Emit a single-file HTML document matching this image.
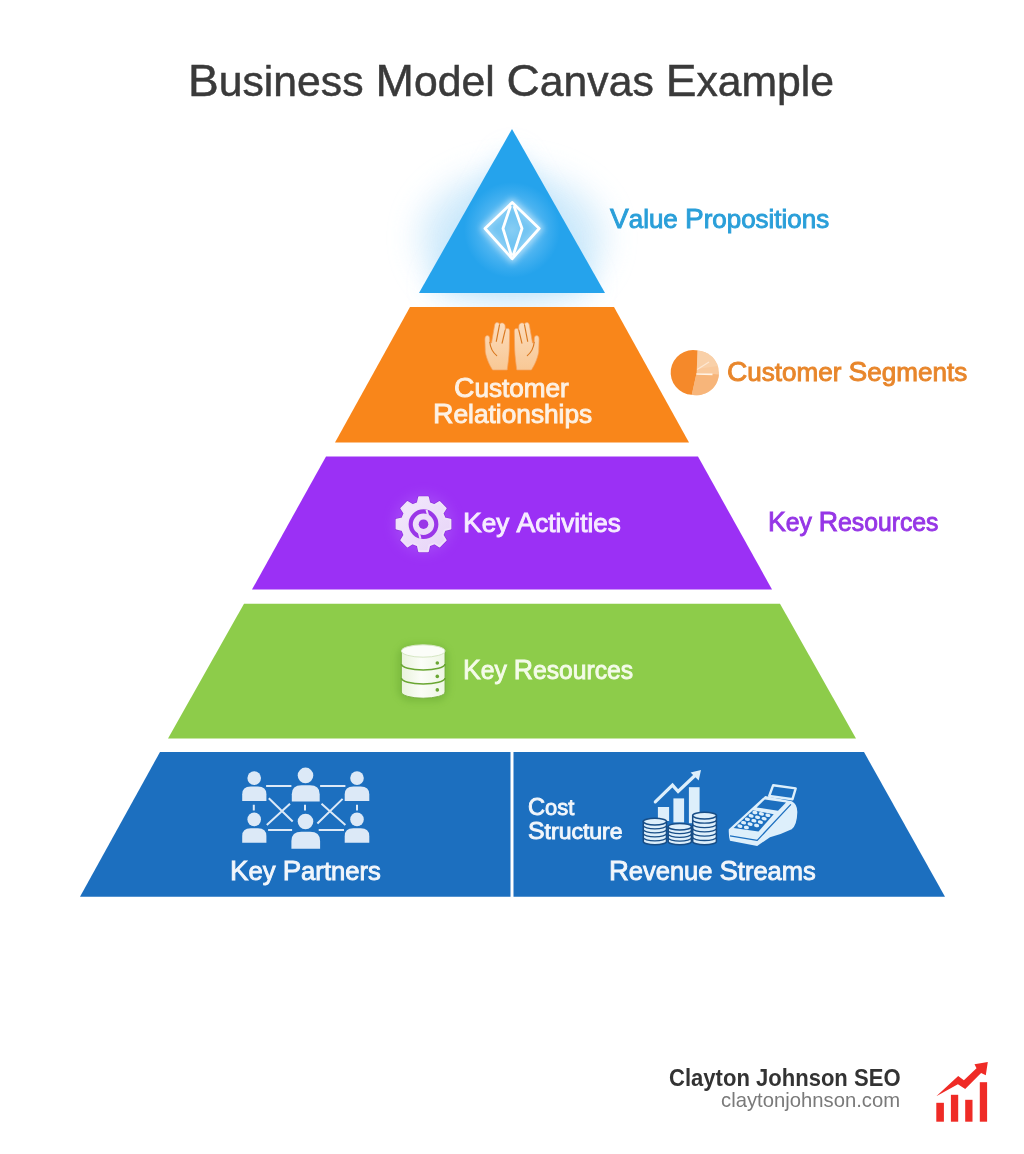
<!DOCTYPE html>
<html><head><meta charset="utf-8">
<style>
html,body{margin:0;padding:0;background:#fff;}
body{width:1024px;height:1154px;position:relative;overflow:hidden;font-family:"Liberation Sans",sans-serif;}
.t{position:absolute;white-space:nowrap;line-height:1;transform-origin:0 0;}
.u{font-size:1.08em;line-height:0;}
svg.bg{position:absolute;left:0;top:0;}
</style></head><body>
<svg class="bg" width="1024" height="1154" viewBox="0 0 1024 1154">
<defs>
<filter id="blur18" x="-80%" y="-80%" width="260%" height="260%"><feGaussianBlur stdDeviation="18"/></filter>
<filter id="blur16" x="-100%" y="-100%" width="300%" height="300%"><feGaussianBlur stdDeviation="16"/></filter>
<filter id="blur14" x="-60%" y="-60%" width="220%" height="220%"><feGaussianBlur stdDeviation="14"/></filter>
<filter id="blur6" x="-60%" y="-60%" width="220%" height="220%"><feGaussianBlur stdDeviation="6"/></filter>
<filter id="blur3" x="-60%" y="-60%" width="220%" height="220%"><feGaussianBlur stdDeviation="3"/></filter>
<filter id="blur1" x="-60%" y="-60%" width="220%" height="220%"><feGaussianBlur stdDeviation="0.6"/></filter>
<radialGradient id="dglow" cx="512" cy="230" r="48" gradientUnits="userSpaceOnUse">
 <stop offset="0" stop-color="#ffffff" stop-opacity="0.55"/>
 <stop offset="0.5" stop-color="#bfe6ff" stop-opacity="0.35"/>
 <stop offset="1" stop-color="#9fd8ff" stop-opacity="0"/>
</radialGradient>
<linearGradient id="handg" x1="0" y1="0" x2="0" y2="1">
 <stop offset="0" stop-color="#fcdcbc"/><stop offset="1" stop-color="#f8c895"/>
</linearGradient>
<linearGradient id="gearg" x1="0" y1="0" x2="1" y2="1">
 <stop offset="0" stop-color="#f3e9fc"/><stop offset="1" stop-color="#e6d3f7"/>
</linearGradient>
<linearGradient id="dbg" x1="0" y1="0" x2="1" y2="0">
 <stop offset="0" stop-color="#e9f3dc"/><stop offset="0.45" stop-color="#fbfdf7"/><stop offset="1" stop-color="#eef6e4"/>
</linearGradient>
</defs>
<ellipse cx="512" cy="238" rx="92" ry="66" fill="#cfeafb" opacity="0.9" filter="url(#blur16)"/>
<polygon points="512,150 430,290 594,290" fill="#8fd0fa" opacity="0.5" filter="url(#blur14)"/>
<polygon points="512,129 419,293 605,293" fill="#25a3ec"/>
<circle cx="512" cy="230" r="48" fill="url(#dglow)"/>
<polygon points="512.2,202.5 539.2,228.5 512.2,258.7 485,228.5" fill="none" stroke="#ffffff" stroke-width="7" opacity="0.55" filter="url(#blur3)"/>
<g fill="none" stroke="#ffffff" stroke-width="2.8" stroke-linejoin="round">
 <polygon points="512.2,202.5 539.2,228.5 512.2,258.7 485,228.5" fill="#6cc4f2" fill-opacity="0.45"/>
 <path d="M510.5,206 L503,228.5 L511.5,256 M514,206 L522,228.5 L513,256"/>
</g>
<polygon points="410,307 614,307 689,442.5 335,442.5" fill="#f9861a"/>
<g id="lhand">
 <path d="M492.6,370 C490,366 486.5,359 485.3,352 L484.9,339 C485,336.5 486.2,335.6 487.3,335.6 C488.6,335.6 489.6,336.5 489.7,338.5 L489.9,342.5 L491.5,343 L494.6,325.3 C495,323 496,322.6 497,322.6 C498.2,322.6 499.2,323.3 499.6,324.2 C500.2,323 501.5,322.8 502.8,323 C504.3,323.3 505.2,324.8 505.2,326.5 L505.4,330 C505.8,328.6 507,328.3 508.2,328.5 C509.4,328.8 509.7,330.2 509.7,331.8 L509.3,349.6 C509,357 508,364 507.2,370 Z" fill="url(#handg)" stroke="#f3a260" stroke-width="0.7"/>
 <path d="M489.8,342.3 C490.3,347 491.5,351.5 496.7,355.6 M499.5,324.8 L496.3,341.3 M505.2,330.1 L502.1,343.2" fill="none" stroke="#d9781f" stroke-width="1.15" stroke-linecap="round"/>
</g>
<use href="#lhand" transform="translate(1024,0) scale(-1,1)"/>
<polygon points="326,456.5 698,456.5 772,589.5 252,589.5" fill="#9b30f5"/>
<circle cx="423.5" cy="524" r="30" fill="#b26cf7" opacity="0.35" filter="url(#blur6)"/>
<path d="M417.69,502.98 L419.00,497.17 L428.00,497.17 L429.31,502.98 L434.40,505.09 L439.43,501.91 L445.79,508.27 L442.61,513.30 L444.72,518.39 L450.53,519.70 L450.53,528.70 L444.72,530.01 L442.61,535.10 L445.79,540.13 L439.43,546.49 L434.40,543.31 L429.31,545.42 L428.00,551.23 L419.00,551.23 L417.69,545.42 L412.60,543.31 L407.57,546.49 L401.21,540.13 L404.39,535.10 L402.28,530.01 L396.47,528.70 L396.47,519.70 L402.28,518.39 L404.39,513.30 L401.21,508.27 L407.57,501.91 L412.60,505.09Z" fill="none" stroke="#7d22c9" stroke-width="3" stroke-linejoin="round" opacity="0.6" filter="url(#blur1)"/>
<path d="M417.69,502.98 L419.00,497.17 L428.00,497.17 L429.31,502.98 L434.40,505.09 L439.43,501.91 L445.79,508.27 L442.61,513.30 L444.72,518.39 L450.53,519.70 L450.53,528.70 L444.72,530.01 L442.61,535.10 L445.79,540.13 L439.43,546.49 L434.40,543.31 L429.31,545.42 L428.00,551.23 L419.00,551.23 L417.69,545.42 L412.60,543.31 L407.57,546.49 L401.21,540.13 L404.39,535.10 L402.28,530.01 L396.47,528.70 L396.47,519.70 L402.28,518.39 L404.39,513.30 L401.21,508.27 L407.57,501.91 L412.60,505.09Z" fill="url(#gearg)" stroke="#eee2fa" stroke-width="1.8" stroke-linejoin="round"/>
<g transform="translate(423.5,524.2)">
 <circle r="12.8" fill="none" stroke="#9a36e8" stroke-width="4.2"/>
 <circle r="4.8" fill="#9a36e8"/>
 <path d="M3,-14.5 L4.5,-9 L0.5,-8.5" fill="none" stroke="#ecdcfa" stroke-width="2"/>
 <path d="M-3,14.5 L-4.5,9 L-0.5,8.5" fill="none" stroke="#ecdcfa" stroke-width="2"/>
</g>
<polygon points="244,603.7 780,603.7 856,738.5 168,738.5" fill="#8dcc4a"/>
<rect x="397" y="644" width="52" height="58" rx="14" fill="#5e9e2a" opacity="0.35" filter="url(#blur3)"/>
<g>
 <path d="M401.4,651 L401.4,692 A21.8,6.2 0 0 0 445,692 L445,651 Z" fill="url(#dbg)" stroke="#74ad3c" stroke-width="0.9"/>
 <ellipse cx="423.2" cy="651" rx="21.8" ry="6.2" fill="#fbfdf8" stroke="#d5e6c2" stroke-width="1"/>
 <path d="M401.4,664 A21.8,6 0 0 0 445,664" fill="none" stroke="#6aa632" stroke-width="1.6"/>
 <path d="M401.4,678 A21.8,6 0 0 0 445,678" fill="none" stroke="#6aa632" stroke-width="1.6"/>
 <circle cx="437.3" cy="663" r="1.8" fill="#6aa632"/>
 <circle cx="437.3" cy="676.4" r="1.8" fill="#6aa632"/>
 <circle cx="437.3" cy="689.9" r="1.8" fill="#6aa632"/>
</g>
<polygon points="160,752 510.5,752 510.5,896.7 80,896.7" fill="#1c6fbf"/>
<polygon points="513.5,752 864,752 945,896.7 513.5,896.7" fill="#1c6fbf"/>
<g>
<circle cx="254.2" cy="778.1" r="6.8" fill="#dce9f7"/><path d="M242.2,801 L242.2,794.344 Q242.2,786.6 250.67,786.6 L257.93,786.6 Q266.4,786.6 266.4,794.344 L266.4,801 Z" fill="#dce9f7"/>
<circle cx="305.5" cy="775.4" r="7.8" fill="#dce9f7"/><path d="M291.8,801.6 L291.8,794.128 Q291.8,785.2 301.565,785.2 L309.935,785.2 Q319.7,785.2 319.7,794.128 L319.7,801.6 Z" fill="#dce9f7"/>
<circle cx="357" cy="778.1" r="6.8" fill="#dce9f7"/><path d="M344.7,801 L344.7,794.472 Q344.7,786.6 353.31,786.6 L360.69,786.6 Q369.3,786.6 369.3,794.472 L369.3,801 Z" fill="#dce9f7"/>
<circle cx="254.2" cy="819.4" r="6.8" fill="#dce9f7"/><path d="M242.2,842.7 L242.2,836.044 Q242.2,828.3 250.67,828.3 L257.93,828.3 Q266.4,828.3 266.4,836.044 L266.4,842.7 Z" fill="#dce9f7"/>
<circle cx="305.5" cy="821.5" r="7.8" fill="#dce9f7"/><path d="M291.4,848.8 L291.4,840.884 Q291.4,831.7 301.445,831.7 L310.055,831.7 Q320.1,831.7 320.1,840.884 L320.1,848.8 Z" fill="#dce9f7"/>
<circle cx="357" cy="819.4" r="6.8" fill="#dce9f7"/><path d="M344.7,842.7 L344.7,836.1719999999999 Q344.7,828.3 353.31,828.3 L360.69,828.3 Q369.3,828.3 369.3,836.1719999999999 L369.3,842.7 Z" fill="#dce9f7"/>
<g stroke="#dce9f7" stroke-width="2" fill="none">
 <path d="M266.1,785.9 H291.4 M320.1,785.9 H345.4 M268.1,830 H292.1 M318.7,830 H344 M253.8,804.7 V810.5 M305,804.7 V810.5 M357,804.7 V810.5 M268.8,798.2 L292.7,821.5 M290,803.7 L266.8,824.9 M321.5,803.7 L345.4,824.9 M342.6,798.9 L317.4,823.5"/>
</g>
</g>
<g>
 <rect x="657.9" y="807" width="11.2" height="14" fill="#ddeffb"/>
 <rect x="673.4" y="798.4" width="10.7" height="24" fill="#ddeffb"/>
 <rect x="688.9" y="787.2" width="10.7" height="36" fill="#ddeffb"/>
 <path d="M655.3,801.8 L672.5,785.1 L678.1,791.5 L695.5,775" fill="none" stroke="#ddeffb" stroke-width="3.2" stroke-linecap="round" stroke-linejoin="miter"/>
 <polygon points="701,770 690.6,772.5 698.7,780.5" fill="#ddeffb"/>
</g>
<path d="M643.3,821.6 L643.3,841.5 A11.600000000000023,3.3 0 0 0 666.5,841.5 L666.5,821.6 Z" fill="#ddeffb" stroke="#174d86" stroke-width="1.5"/><path d="M643.3,825.58 A11.600000000000023,3.3 0 0 0 666.5,825.58" fill="none" stroke="#174d86" stroke-width="1.3"/><path d="M643.3,829.5600000000001 A11.600000000000023,3.3 0 0 0 666.5,829.5600000000001" fill="none" stroke="#174d86" stroke-width="1.3"/><path d="M643.3,833.54 A11.600000000000023,3.3 0 0 0 666.5,833.54" fill="none" stroke="#174d86" stroke-width="1.3"/><path d="M643.3,837.52 A11.600000000000023,3.3 0 0 0 666.5,837.52" fill="none" stroke="#174d86" stroke-width="1.3"/><ellipse cx="654.9" cy="821.6" rx="11.600000000000023" ry="3.3" fill="#ddeffb" stroke="#174d86" stroke-width="1.5"/>
<path d="M668.2,826.7 L668.2,841.5 A11.599999999999966,3.3 0 0 0 691.4,841.5 L691.4,826.7 Z" fill="#ddeffb" stroke="#174d86" stroke-width="1.5"/><path d="M668.2,830.4000000000001 A11.599999999999966,3.3 0 0 0 691.4,830.4000000000001" fill="none" stroke="#174d86" stroke-width="1.3"/><path d="M668.2,834.1 A11.599999999999966,3.3 0 0 0 691.4,834.1" fill="none" stroke="#174d86" stroke-width="1.3"/><path d="M668.2,837.8 A11.599999999999966,3.3 0 0 0 691.4,837.8" fill="none" stroke="#174d86" stroke-width="1.3"/><ellipse cx="679.8" cy="826.7" rx="11.599999999999966" ry="3.3" fill="#ddeffb" stroke="#174d86" stroke-width="1.5"/>
<path d="M692.7,815.6 L692.7,841.5 A11.849999999999966,3.3 0 0 0 716.4,841.5 L716.4,815.6 Z" fill="#ddeffb" stroke="#174d86" stroke-width="1.5"/><path d="M692.7,819.9166666666667 A11.849999999999966,3.3 0 0 0 716.4,819.9166666666667" fill="none" stroke="#174d86" stroke-width="1.3"/><path d="M692.7,824.2333333333333 A11.849999999999966,3.3 0 0 0 716.4,824.2333333333333" fill="none" stroke="#174d86" stroke-width="1.3"/><path d="M692.7,828.55 A11.849999999999966,3.3 0 0 0 716.4,828.55" fill="none" stroke="#174d86" stroke-width="1.3"/><path d="M692.7,832.8666666666667 A11.849999999999966,3.3 0 0 0 716.4,832.8666666666667" fill="none" stroke="#174d86" stroke-width="1.3"/><path d="M692.7,837.1833333333334 A11.849999999999966,3.3 0 0 0 716.4,837.1833333333334" fill="none" stroke="#174d86" stroke-width="1.3"/><ellipse cx="704.55" cy="815.6" rx="11.849999999999966" ry="3.3" fill="#ddeffb" stroke="#174d86" stroke-width="1.5"/>
<g stroke-linejoin="round">
 <polygon points="773.2,785.2 795.7,788.4 792.5,799.2 769.2,796" fill="#1c6fbf" stroke="#ddeffb" stroke-width="2.4"/>
 <path d="M728.8,829.2 L765.2,796 L791.7,801.2 Q797.5,804 797.3,812.4 Q797,825 791.7,829.2 Q782,834 770,837.2 Q763,842 757.2,846 L730,840.8 Q728.5,836 728.8,829.2 Z" fill="#ddeffb"/>
 <polygon points="764.8,799.5 786,802.4 778,810.8 756.6,807.4" fill="#1c6fbf"/>
 <polygon points="752.9,810.2 773.7,814.3 758.5,831.6 733.6,828" fill="#1c6fbf"/>
 <path d="M730,835.8 L757.2,840.4 L790.9,804.4" fill="none" stroke="#1c6fbf" stroke-width="1.3"/>
</g>
<g><ellipse cx="754.9" cy="812.5" rx="2.6" ry="1.7" transform="rotate(12 754.9 812.5)" fill="#ddeffb"/><ellipse cx="761.4" cy="813.9" rx="2.6" ry="1.7" transform="rotate(12 761.4 813.9)" fill="#ddeffb"/><ellipse cx="767.9" cy="815.3" rx="2.6" ry="1.7" transform="rotate(12 767.9 815.3)" fill="#ddeffb"/><ellipse cx="751.1" cy="815.9" rx="2.6" ry="1.7" transform="rotate(12 751.1 815.9)" fill="#ddeffb"/><ellipse cx="757.6" cy="817.3" rx="2.6" ry="1.7" transform="rotate(12 757.6 817.3)" fill="#ddeffb"/><ellipse cx="764.1" cy="818.7" rx="2.6" ry="1.7" transform="rotate(12 764.1 818.7)" fill="#ddeffb"/><ellipse cx="747.4" cy="819.3" rx="2.6" ry="1.7" transform="rotate(12 747.4 819.3)" fill="#ddeffb"/><ellipse cx="753.9" cy="820.7" rx="2.6" ry="1.7" transform="rotate(12 753.9 820.7)" fill="#ddeffb"/><ellipse cx="760.4" cy="822.1" rx="2.6" ry="1.7" transform="rotate(12 760.4 822.1)" fill="#ddeffb"/><ellipse cx="743.6" cy="822.7" rx="2.6" ry="1.7" transform="rotate(12 743.6 822.7)" fill="#ddeffb"/><ellipse cx="750.1" cy="824.1" rx="2.6" ry="1.7" transform="rotate(12 750.1 824.1)" fill="#ddeffb"/><ellipse cx="756.6" cy="825.5" rx="2.6" ry="1.7" transform="rotate(12 756.6 825.5)" fill="#ddeffb"/><ellipse cx="739.9" cy="826.1" rx="2.6" ry="1.7" transform="rotate(12 739.9 826.1)" fill="#ddeffb"/><ellipse cx="746.4" cy="827.5" rx="2.6" ry="1.7" transform="rotate(12 746.4 827.5)" fill="#ddeffb"/></g>
<g>
 <circle cx="696.6" cy="372.9" r="22.4" fill="#f9c99c"/>
 <path d="M696.6,372.9 L697.6,350.5 A22.4,22.4 0 1 0 691.8,394.8 Z" fill="#f5892a"/>
 <path d="M696.6,372.9 L691.8,394.8 A22.4,22.4 0 0 0 718.9,374.5 Z" fill="#f7b57a"/>
 <path d="M697.6,350.5 A22.4,22.4 0 0 1 717.5,366 L697,369 Z" fill="#f9d0a8"/>
 <path d="M696.5,374 L712.5,374.4" stroke="#fff3e6" stroke-width="1.6"/>
 <path d="M697.2,369.5 L709,362" stroke="#fde7d2" stroke-width="1.2"/>
</g>
<g fill="#ef2b26">
 <rect x="936.3" y="1102.8" width="7.6" height="18.9"/>
 <rect x="950.9" y="1094.8" width="7.3" height="26.9"/>
 <rect x="965.2" y="1099.8" width="7.3" height="21.9"/>
 <rect x="979.8" y="1082.2" width="7.3" height="39.5"/>
 <polygon points="936.3,1096.2 958.2,1075.9 963.9,1080.2 976.5,1068.3 974.5,1064.3 987.8,1062 985.8,1075.2 981.1,1072.9 965.2,1088.9 957.9,1084.2"/>
</g>
</svg>
<div class="t" id="title" style="left:188.20px;top:61.44px;font-size:41.81px;color:#3a3a3a;font-weight:normal;-webkit-text-stroke:0.5px currentColor;transform:scaleX(1.0218)"><span class="u">B</span>usiness <span class="u">M</span>odel <span class="u">C</span>anvas <span class="u">E</span>xample</div><div class="t" id="vp" style="left:610.30px;top:207.43px;font-size:25.15px;color:#2a9fd9;font-weight:normal;-webkit-text-stroke:0.9px currentColor;transform:scaleX(1.0318)"><span class="u">V</span>alue <span class="u">P</span>ropositions</div><div class="t" id="cs" style="left:727.00px;top:360.43px;font-size:25.29px;color:#e8862b;font-weight:normal;-webkit-text-stroke:0.9px currentColor;transform:scaleX(1.0296)"><span class="u">C</span>ustomer <span class="u">S</span>egments</div><div class="t" id="kr2" style="left:768.30px;top:510.29px;font-size:25.31px;color:#9636e6;font-weight:normal;-webkit-text-stroke:0.9px currentColor;transform:scaleX(0.9773)"><span class="u">K</span>ey <span class="u">R</span>esources</div><div class="t" id="cr1" style="left:454.30px;top:375.96px;font-size:25.00px;color:#fdf1e4;font-weight:normal;-webkit-text-stroke:0.9px currentColor;transform:scaleX(1.0456)"><span class="u">C</span>ustomer</div><div class="t" id="cr2" style="left:433.30px;top:402.40px;font-size:25.00px;color:#fdf1e4;font-weight:normal;-webkit-text-stroke:0.9px currentColor;transform:scaleX(1.0506)"><span class="u">R</span>elationships</div><div class="t" id="ka" style="left:462.60px;top:511.37px;font-size:25.30px;color:#f6ecff;font-weight:normal;-webkit-text-stroke:0.9px currentColor;transform:scaleX(1.0298)"><span class="u">K</span>ey <span class="u">A</span>ctivities</div><div class="t" id="kr" style="left:462.60px;top:658.49px;font-size:25.71px;color:#f4fbe9;font-weight:normal;-webkit-text-stroke:0.9px currentColor;transform:scaleX(0.9597)"><span class="u">K</span>ey <span class="u">R</span>esources</div><div class="t" id="kp" style="left:229.60px;top:859.27px;font-size:25.70px;color:#f2f6fb;font-weight:normal;-webkit-text-stroke:0.9px currentColor;transform:scaleX(0.9972)"><span class="u">K</span>ey <span class="u">P</span>artners</div><div class="t" id="co1" style="left:528.30px;top:796.69px;font-size:22.20px;color:#f2f6fb;font-weight:normal;-webkit-text-stroke:0.9px currentColor;transform:scaleX(0.9867)"><span class="u">C</span>ost</div><div class="t" id="co2" style="left:528.30px;top:821.08px;font-size:22.20px;color:#f2f6fb;font-weight:normal;-webkit-text-stroke:0.9px currentColor;transform:scaleX(1.0364)"><span class="u">S</span>tructure</div><div class="t" id="rs" style="left:609.00px;top:859.25px;font-size:25.30px;color:#f2f6fb;font-weight:normal;-webkit-text-stroke:0.9px currentColor;transform:scaleX(1.0067)"><span class="u">R</span>evenue <span class="u">S</span>treams</div><div class="t" id="cj" style="left:669.00px;top:1066.59px;font-size:23.40px;color:#333333;font-weight:bold;transform:scaleX(0.9426)">Clayton Johnson SEO</div><div class="t" id="cjw" style="left:720.90px;top:1090.45px;font-size:20.60px;color:#7a7a7a;font-weight:normal;transform:scaleX(0.9839)">claytonjohnson.com</div>
</body></html>
